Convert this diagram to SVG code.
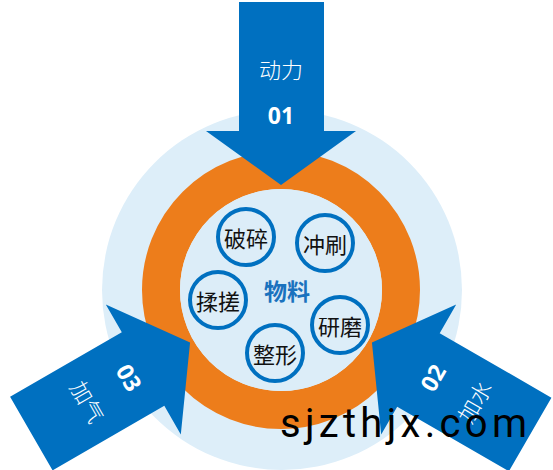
<svg xmlns="http://www.w3.org/2000/svg" width="553" height="470" viewBox="0 0 553 470">
  <style>
    .arrow { fill: #0070c0; }
    .lbl { font-family: "Noto Sans CJK SC", "Noto Sans", sans-serif; font-size: 22px; fill: #ffffff; text-anchor: middle; dominant-baseline: central; font-weight: 300; }
    .num { font-family: "Open Sans", "Noto Sans", sans-serif; font-size: 23px; font-weight: bold; fill: #ffffff; text-anchor: middle; dominant-baseline: central; }
    .bub circle { fill: #dcedf8; stroke: #0070c0; stroke-width: 4; }
    .bub text { font-family: "Noto Sans CJK SC", sans-serif; font-size: 22px; fill: #111111; text-anchor: middle; dominant-baseline: central; }
    .center { font-family: "Noto Sans CJK SC", sans-serif; font-size: 23px; font-weight: bold; fill: #1a72be; text-anchor: middle; dominant-baseline: central; }
    .wm { font-family: Roboto, "Liberation Sans", sans-serif; font-size: 40px; fill: #000000; letter-spacing: 4.3px; }
  </style>
  <defs>
    <polygon id="arr" points="239,2 324,2 324,131 356,131 281,185 206,131 239,131"/>
  </defs>

  <g id="rings">
    <circle cx="282" cy="290" r="180" fill="#ddeef9"/>
    <circle cx="281" cy="290" r="120" fill="none" stroke="#ed7d1b" stroke-width="38"/>
    <circle cx="281" cy="290" r="101" fill="#dcedf8"/>
  </g>

  <g id="arrow-01">
    <use href="#arr" class="arrow"/>
    <text class="lbl" x="281" y="68">动力</text>
    <text class="num" x="281" y="115">01</text>
  </g>

  <g id="arrow-02" transform="rotate(120 281 290)">
    <use href="#arr" class="arrow"/>
    <text class="lbl" x="281" y="68" transform="rotate(180 281 68)">加水</text>
    <text class="num" x="281" y="115" transform="rotate(180 281 115)">02</text>
  </g>

  <g id="arrow-03" transform="rotate(240 281 290)">
    <use href="#arr" class="arrow"/>
    <text class="lbl" x="281" y="68" transform="rotate(180 281 68)">加气</text>
    <text class="num" x="281" y="115" transform="rotate(180 281 115)">03</text>
  </g>

  <g id="node-posui" class="bub"><circle cx="246" cy="237" r="28"/><text x="246" y="237">破碎</text></g>
  <g id="node-chongshua" class="bub"><circle cx="325" cy="243" r="28"/><text x="325" y="243">冲刷</text></g>
  <g id="node-roucuo" class="bub"><circle cx="218" cy="300" r="28"/><text x="218" y="300">揉搓</text></g>
  <g id="node-yanmo" class="bub"><circle cx="340" cy="325" r="28"/><text x="340" y="325">研磨</text></g>
  <g id="node-zhengxing" class="bub"><circle cx="275" cy="353" r="28"/><text x="275" y="353">整形</text></g>
  <g id="node-wuliao"><text class="center" x="287" y="290">物料</text></g>

  <g id="connectors"></g>

  <text class="wm" x="280" y="437">sjzthjx.com</text>
</svg>
